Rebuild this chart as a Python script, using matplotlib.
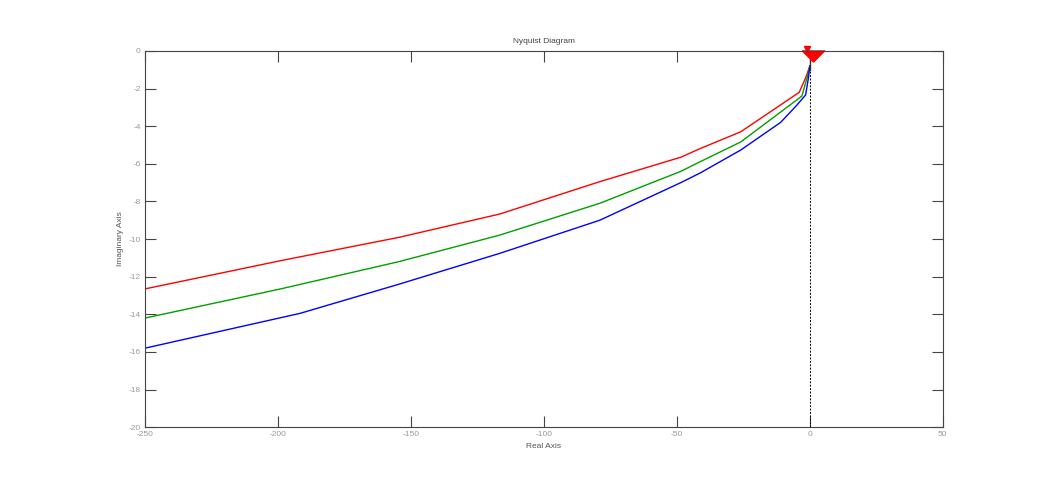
import matplotlib
matplotlib.use("Agg")
import matplotlib.pyplot as plt

plt.rcParams['axes.unicode_minus'] = False
plt.rcParams['font.family'] = ['Liberation Sans', 'DejaVu Sans']

red_re = [-250, -199, -154.5, -116.6, -79, -48.5, -41.4, -26, -11, -4, -1.5, 0]
red_im = [-12.65, -11.15, -9.91, -8.67, -6.95, -5.65, -5.2, -4.3, -2.87, -2.2, -1.4, -0.8]

green_re = [-250, -199, -154.5, -116.6, -79, -48.5, -41.4, -26, -11, -3, -1, 0]
green_im = [-14.2, -12.65, -11.2, -9.79, -8.1, -6.4, -5.9, -4.84, -3.25, -2.4, -1.4, -0.8]

blue_re = [-250, -191.7, -154.5, -116.6, -79, -48.5, -41.4, -26, -11, -5, -1.6, -0.5, 0]
blue_im = [-15.8, -13.95, -12.4, -10.76, -9.0, -7.0, -6.5, -5.27, -3.8, -2.9, -2.34, -1.4, -0.8]

xticks = [-250, -200, -150, -100, -50, 0, 50]
yticks = [-20, -18, -16, -14, -12, -10, -8, -6, -4, -2, 0]

fig = plt.figure(figsize=(10.43, 4.80), dpi=100)
ax = fig.add_axes([0.139, 0.110, 0.765, 0.784])

ax.plot([0, 0], [-20, 0], color='black', linestyle=(0, (2, 1.5)), linewidth=0.7)
ax.plot(red_re, red_im, color='#ff0000', linewidth=1.0)
ax.plot(green_re, green_im, color='#00a000', linewidth=1.0)
ax.plot(blue_re, blue_im, color='#0000ff', linewidth=1.0)
ax.plot([0, 0], [-1.0, 0], color='#333333', linewidth=1.0)
wedge = [(-2, 1), (2, 1), (0, -1), (-2, 1)]
ax.plot([1.0], [-0.25], marker=wedge, color='#ff0000', markersize=16,
        clip_on=False, linestyle='none')
ax.plot([-1.2], [0.1], marker='v', color='#ff0000', markersize=5,
        clip_on=False, linestyle='none')

ax.set_xlim(-250, 50)
ax.set_ylim(-20, 0)
ax.set_xticks(xticks)
ax.set_yticks(yticks)
ax.tick_params(direction='in', length=8, width=0.8, colors='#444444', labelcolor='#999999',
               labelsize=6, top=True, right=True, pad=3)
for s in ax.spines.values():
    s.set_color('#444444')
    s.set_linewidth(0.8)

ax.set_title('Nyquist Diagram', fontsize=6, color='#444444', pad=6)
ax.set_xlabel('Real Axis', fontsize=6, color='#555555', labelpad=3)
ax.set_ylabel('Imaginary Axis', fontsize=6, color='#555555', labelpad=3)

fig.savefig('out.png', dpi=100)
